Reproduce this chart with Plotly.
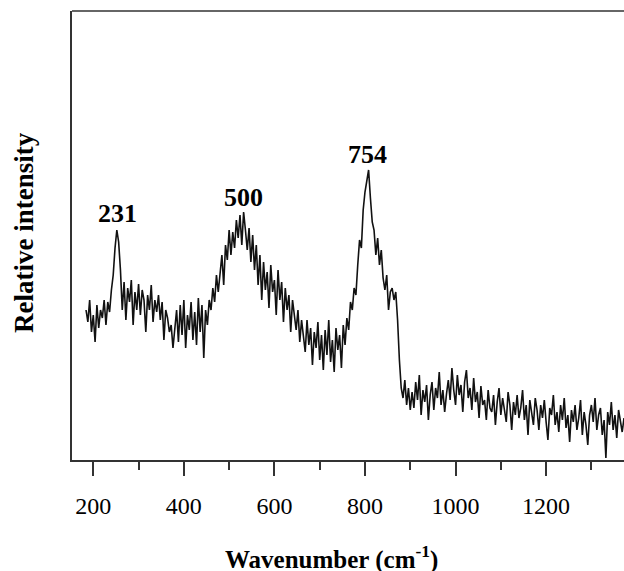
import numpy as np
import plotly.graph_objects as go

# Raman spectrum: wavenumber grid (cm-1) and relative intensity
wn_start, wn_stop, wn_step = 184, 1372, 4
intensity = [
    150, 138, 160, 128, 145, 118, 155, 132, 150, 142,
    160, 135, 158, 148, 170, 185, 212, 230, 218, 190,
    150, 178, 140, 172, 158, 180, 135, 168, 150, 176,
    145, 170, 160, 128, 165, 150, 175, 138, 160, 148,
    165, 140, 158, 120, 150, 142, 128, 135, 112, 130,
    150, 118, 155, 125, 160, 112, 145, 130, 158, 120,
    148, 115, 162, 128, 155, 102, 150, 135, 160, 150,
    172, 158, 185, 168, 190, 205, 175, 215, 200, 230,
    205, 228, 212, 240, 222, 245, 215, 248, 230, 210,
    232, 198, 225, 190, 215, 175, 205, 160, 198, 170,
    188, 152, 195, 168, 180, 145, 190, 160, 178, 138,
    172, 150, 165, 128, 160, 142, 130, 150, 118, 140,
    125, 108, 140, 115, 132, 95, 128, 112, 138, 100,
    125, 90, 130, 105, 140, 98, 120, 88, 132, 110,
    125, 92, 135, 115, 142, 130, 158, 150, 172, 165,
    195, 220, 212, 250, 268, 278, 290, 262, 238, 230,
    205, 222, 195, 210, 182, 170, 185, 150, 168, 172,
    160, 168, 140, 100, 72, 62, 80, 55, 72, 50,
    68, 52, 78, 60, 85, 45, 70, 58, 75, 40,
    65, 78, 50, 72, 62, 88, 55, 70, 48, 66,
    80, 60, 92, 70, 55, 85, 65, 75, 48, 78,
    90, 62, 72, 50, 82, 58, 68, 42, 74, 55,
    60, 40, 70, 52, 48, 65, 35, 58, 72, 45,
    62, 50, 38, 68, 55, 30, 58, 45, 65, 42,
    52, 70, 40, 55, 25, 60, 48, 35, 62, 50,
    30, 55, 42, 60, 38, 20, 52, 45, 65, 35,
    48, 28, 55, 40, 62, 32, 45, 18, 50, 38,
    55, 30, 42, 60, 25, 48, 35, 15, 45, 55,
    38, 62, 30, 45, 52, 25, 40, 2, 48, 35,
    58, 30, 45, 22, 50, 38, 28, 42,
]
wavenumber = np.arange(wn_start, wn_stop + 1, wn_step)

peak_labels = ["231", "500", "754"]
peak_x = [253, 532, 806]
peak_y = [247, 263, 306]

FONT = "Liberation Serif"

fig = go.Figure()
fig.add_trace(go.Scatter(x=wavenumber, y=intensity, mode="lines",
                         line=dict(color="#111111", width=1.6), showlegend=False,
                         hoverinfo="skip"))

for t, x, y in zip(peak_labels, peak_x, peak_y):
    fig.add_annotation(x=x, y=y, text=f"<b>{t}</b>", showarrow=False,
                       font=dict(family=FONT, size=26, color="black"),
                       xanchor="center", yanchor="middle")

fig.add_annotation(xref="paper", yref="paper", x=(331 - 72) / 552, y=-97 / 449,
                   text="<b>Wavenumber (cm<sup>-1</sup>)</b>", showarrow=False,
                   font=dict(family=FONT, size=25, color="black"),
                   xanchor="center", yanchor="middle")
fig.add_annotation(xref="paper", yref="paper", x=(24 - 72) / 552, y=(460 - 233) / 449,
                   text="<b>Relative intensity</b>", showarrow=False, textangle=-90,
                   font=dict(family=FONT, size=27, color="black"),
                   xanchor="center", yanchor="middle")

# top border line
fig.add_shape(type="line", xref="paper", yref="paper", x0=0, x1=1, y0=1, y1=1,
              line=dict(color="#333333", width=1.5))

fig.update_layout(
    width=624, height=571,
    margin=dict(l=72, r=0, t=11, b=111),
    paper_bgcolor="white", plot_bgcolor="white",
    font=dict(family=FONT, color="black"),
)
fig.update_xaxes(range=[153, 1372], showgrid=False, zeroline=False,
                 showline=True, linecolor="#333333", linewidth=1.5,
                 ticks="outside", ticklen=14, tickwidth=1.5, tickcolor="#333333",
                 tick0=200, dtick=200, ticklabelstandoff=9,
                 tickfont=dict(family=FONT, size=24, color="black"),
                 minor=dict(ticks="outside", ticklen=8, tickwidth=1.5,
                            tickcolor="#333333", tick0=100, dtick=100))
fig.update_yaxes(range=[0, 449], showgrid=False, zeroline=False,
                 showline=True, linecolor="#333333", linewidth=1.5,
                 showticklabels=False, ticks="")

fig.write_html("out.html", config={"displayModeBar": False},
               post_script="document.body.style.margin='0';document.body.style.overflow='hidden';")
